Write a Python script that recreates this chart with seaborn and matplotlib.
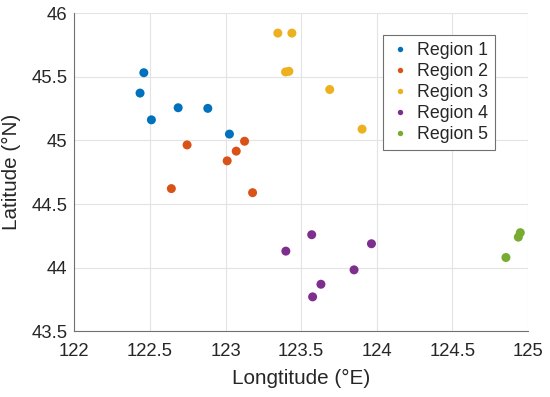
import matplotlib
matplotlib.use("Agg")
import matplotlib.pyplot as plt
import seaborn as sns
import pandas as pd

regions = ["Region 1", "Region 2", "Region 3", "Region 4", "Region 5"]
r1_lon = [122.46, 122.435, 122.51, 122.687, 122.883, 123.026]
r1_lat = [45.532, 45.372, 45.162, 45.257, 45.252, 45.05]
r2_lon = [122.746, 123.126, 123.071, 123.011, 122.642, 123.179]
r2_lat = [44.965, 44.994, 44.916, 44.84, 44.622, 44.59]
r3_lon = [123.346, 123.439, 123.397, 123.419, 123.689, 123.903]
r3_lat = [45.843, 45.843, 45.538, 45.543, 45.40, 45.089]
r4_lon = [123.399, 123.57, 123.85, 123.631, 123.576, 123.965]
r4_lat = [44.131, 44.26, 43.984, 43.871, 43.772, 44.189]
r5_lon = [124.854, 124.936, 124.949]
r5_lat = [44.081, 44.241, 44.276]
colors = ["#0072BD", "#D95319", "#EDB120", "#7E2F8E", "#77AC30"]

lons = [r1_lon, r2_lon, r3_lon, r4_lon, r5_lon]
lats = [r1_lat, r2_lat, r3_lat, r4_lat, r5_lat]
rows = []
for name, lo, la in zip(regions, lons, lats):
    for x, y in zip(lo, la):
        rows.append({"lon": x, "lat": y, "region": name})
df = pd.DataFrame(rows)

sns.set_style("white")
plt.rcParams["font.family"] = ["Liberation Sans", "DejaVu Sans"]

fig = plt.figure(figsize=(5.5, 3.97), dpi=100)
ax = fig.add_axes([0.135, 0.165, 0.825, 0.802])
sns.scatterplot(data=df, x="lon", y="lat", hue="region", palette=colors,
                s=42, linewidth=0, ax=ax, legend=True, zorder=3)

ax.set_xlim(122, 125)
ax.set_ylim(43.5, 46)
ax.set_xticks([122, 122.5, 123, 123.5, 124, 124.5, 125])
ax.set_xticklabels(["122", "122.5", "123", "123.5", "124", "124.5", "125"])
ax.set_yticks([43.5, 44, 44.5, 45, 45.5, 46])
ax.set_yticklabels(["43.5", "44", "44.5", "45", "45.5", "46"])
ax.grid(True, color="#e3e3e3", linewidth=0.8, zorder=0)
ax.set_axisbelow(True)
for s in ["top", "right"]:
    ax.spines[s].set_visible(False)
for s in ["left", "bottom"]:
    ax.spines[s].set_color("#707070")
    ax.spines[s].set_linewidth(0.8)
ax.tick_params(direction="in", length=4, width=0.8, color="#707070",
               labelsize=13.3, labelcolor="#262626")
ax.tick_params(axis="x", pad=8)
ax.tick_params(axis="y", pad=5)
ax.set_xlabel("Longtitude (°E)", fontsize=14.9, color="#262626", labelpad=7)
ax.set_ylabel("Latitude (°N)", fontsize=14.9, color="#262626", labelpad=7)

leg = ax.legend(loc="upper left", bbox_to_anchor=(0.68, 0.93), fontsize=12.8,
                frameon=True, fancybox=False, edgecolor="#707070", framealpha=1,
                markerscale=0.6, handletextpad=0.4, labelspacing=0.22,
                borderpad=0.4, handlelength=1.1, borderaxespad=0)
leg.get_frame().set_linewidth(0.8)

fig.savefig("out.png", dpi=100)
